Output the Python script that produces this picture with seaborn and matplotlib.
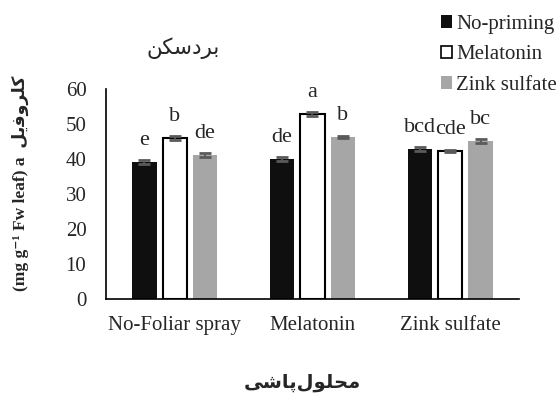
import matplotlib
matplotlib.use("Agg")
import matplotlib.pyplot as plt
import seaborn as sns
import pandas as pd
import numpy as np
from matplotlib.patches import Patch

sns.set_style("white")
plt.rcParams['font.family'] = ['Liberation Serif', 'DejaVu Sans']

# Data
spray = ["No-Foliar spray", "Melatonin", "Zink sulfate"]
priming = ["No-priming", "Melatonin", "Zink sulfate"]
no_priming = [39.1, 40.0, 42.9]
melatonin = [46.0, 52.9, 42.3]
zink = [41.1, 46.3, 45.1]
err_no = [0.5, 0.5, 0.5]
err_mel = [0.5, 0.5, 0.4]
err_zn = [0.6, 0.4, 0.6]
letters_no = ["e", "de", "bcd"]
letters_mel = ["b", "a", "cde"]
letters_zn = ["de", "b", "bc"]
yticks = [0, 10, 20, 30, 40, 50, 60]

# Arabic/Persian text in visual order with presentation forms
title_txt = "\uFEE6\uFB91\uFEB3\uFEA9\uFEAE\uFE91"          # بردسکن
ylab_fa = "\uFEDE\uFBFE\uFED3\uFEED\uFEAE\uFEE0\uFB90"       # کلروفیل
xlab_txt = "\uFBFD\uFEB7\uFE8E\uFB58\uFEDD\uFEEE\uFEE0\uFEA4\uFEE3"  # محلولپاشی

df = pd.DataFrame({
    "spray": spray * 3,
    "priming": [priming[0]] * 3 + [priming[1]] * 3 + [priming[2]] * 3,
    "value": no_priming + melatonin + zink,
    "err": err_no + err_mel + err_zn,
    "letter": letters_no + letters_mel + letters_zn,
})

colors = ["#0f0f0f", "#ffffff", "#a6a6a6"]
FS = 15

fig = plt.figure(figsize=(5.6, 4.05), dpi=100)
ax = fig.add_axes([0.189, 0.262, 0.738, 0.518])

sns.barplot(data=df, x="spray", y="value", hue="priming", order=spray,
            hue_order=priming, palette=colors, errorbar=None, width=0.66,
            gap=0.2, ax=ax, legend=False, saturation=1)

for i, p in enumerate(ax.patches):
    hue_idx = i // 3
    grp = i % 3
    if hue_idx == 1:
        p.set_edgecolor("black")
        p.set_linewidth(1.5)
    else:
        p.set_edgecolor("none")
    row = df[(df.priming == priming[hue_idx]) & (df.spray == spray[grp])].iloc[0]
    cx = p.get_x() + p.get_width() / 2
    ax.errorbar(cx, row.value, yerr=row.err, color="#5a5a5a", capsize=4,
                elinewidth=1.3, capthick=2, zorder=5)
    ax.text(cx, row.value + 4.8, row.letter, ha="center", va="baseline",
            fontsize=FS + 1, family=['Liberation Serif'])

ax.set_ylim(0, 60)
ax.set_xlim(-0.5, 2.5)
ax.set_yticks(yticks)
ax.set_yticklabels([str(t) for t in yticks])
ax.tick_params(axis='both', length=0, labelsize=FS)
ax.tick_params(axis='x', pad=12)
ax.tick_params(axis='y', pad=14)
for s in ["top", "right"]:
    ax.spines[s].set_visible(False)
for s in ["left", "bottom"]:
    ax.spines[s].set_color("black")
    ax.spines[s].set_linewidth(1.2)
ax.set_xlabel("")
ax.set_ylabel("(mg g\u207b\u00b9 Fw leaf) a  " + ylab_fa, fontsize=12.5,
              fontweight="bold")
ax.yaxis.set_label_coords(-0.185, 0.55)

fig.text(0.327, 0.882, title_txt, ha="center", va="center", fontsize=15.5,
         family=['DejaVu Sans'])
fig.text(0.54, 0.055, xlab_txt, ha="center", va="center", fontsize=14,
         fontweight="bold", family=['DejaVu Sans'])

handles = [Patch(facecolor=colors[0], edgecolor="none"),
           Patch(facecolor=colors[1], edgecolor="black", linewidth=1.2),
           Patch(facecolor=colors[2], edgecolor="none")]
fig.legend(handles, priming, loc="upper left", bbox_to_anchor=(0.787, 0.963),
           frameon=False, fontsize=FS, handlelength=0.55, handleheight=0.55,
           handletextpad=0.2, labelspacing=0.55, borderaxespad=0, borderpad=0)

fig.savefig("out.png", dpi=100)
